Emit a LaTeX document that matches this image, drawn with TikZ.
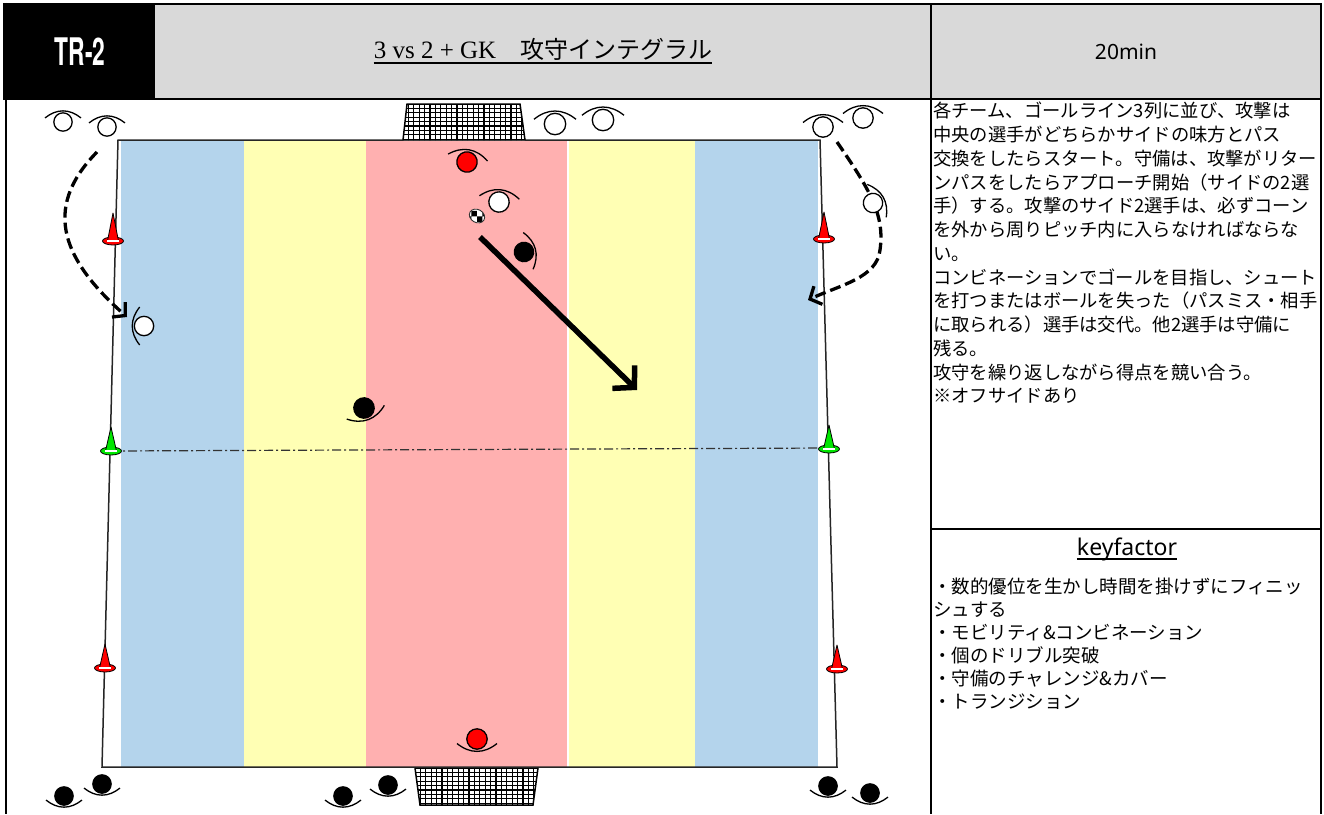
\documentclass[tikz,border=0pt]{standalone}
\usepackage{fontspec}
\usepackage{graphicx}
\newfontfamily\jp{Noto Sans CJK JP}
\newfontfamily\ttlserif{Liberation Serif}
\newfontfamily\heros{TeX Gyre Heros}
\newfontfamily\nsans{Noto Sans}
\usetikzlibrary{arrows.meta,patterns,calc}
\definecolor{hdrgray}{RGB}{217,217,217}
\definecolor{pbl}{RGB}{180,212,236}
\definecolor{pye}{RGB}{255,255,180}
\definecolor{ppk}{RGB}{255,176,176}
\definecolor{conered}{RGB}{255,0,0}
\definecolor{conegreen}{RGB}{0,230,0}
\tikzset{
  pics/player/.style={code={
    \draw[line width=1.3pt] (-20,-4.5) .. controls (-7,-15) and (7,-15) .. (20,-4.5);
    \draw[line width=1.3pt, fill=#1] (0,0) circle[radius=10.2pt];
  }},
  pics/cone/.style args={#1/#2}{code={
    \draw[fill=#1, line width=0.8pt] (0,0) ellipse[x radius=10.5pt, y radius=4pt];
    \draw[fill=#1, line width=0.8pt, line join=round] (-5.5,0) -- (0,-#2) -- (5.5,0) -- cycle;
    \fill[white] (-6,-1) rectangle (6,1);
  }},
}
\begin{document}
\begin{tikzpicture}[x=1pt,y=-1pt,
  border/.style={line width=2.5pt},
  pitchline/.style={line width=1.5pt, draw=black!85},
  runarrow/.style={line width=3.3pt, dash pattern=on 11pt off 5pt, -{Straight Barb[length=9pt,width=20pt]}},
  passarrow/.style={line width=5.5pt, -{Straight Barb[length=15pt,width=32pt]}},
  offside/.style={line width=1.2pt, draw=black!80, dash pattern=on 9pt off 3pt on 2pt off 3pt},
  netline/.style={line width=1.3pt}]
\useasboundingbox (0,0) rectangle (1324,814);
\fill[white] (0,0) rectangle (1324,814);

% ---------- header ----------
\fill[hdrgray] (155,4) rectangle (1321,99);
\fill[black] (3,3) rectangle (155,100);
\draw[border] (6,4) -- (1321,4);
\draw[border] (6,2.75) -- (6,814);
\draw[border] (1321,2.75) -- (1321,814);
\draw[border] (6,99) -- (1321,99);
\draw[border] (931,4) -- (931,814);
\draw[border] (931,529) -- (1321,529);

\node[text=white, font=\heros\bfseries\fontsize{38}{38}\selectfont] (tr) at (80,52) {\scalebox{0.6}[1]{TR-2}};
\node[anchor=base, inner sep=0pt] (title) at (543,58)
  {{\ttlserif\fontsize{25}{30}\selectfont 3 vs 2 + GK}{\jp\fontsize{24}{30}\selectfont 　攻守インテグラル}};
\draw[line width=2pt] ($(title.base west)+(0,4.5)$) -- ($(title.base east)+(0,4.5)$);
\node[font=\nsans\fontsize{21}{24}\selectfont] (dur) at (1126,52) {20min};

% ---------- pitch ----------
\fill[pbl] (121,141) rectangle (244,767);
\fill[pye] (244,141) rectangle (366,767);
\fill[ppk] (366,141) rectangle (567,767);
\fill[pye] (569,141) rectangle (695,767);
\fill[pbl] (695,141) rectangle (818,767);
\draw[pitchline] (118,140) -- (820,140) -- (837,767) -- (102,767) -- cycle;

% offside line
\coordinate (g1) at (111,451);
\coordinate (g2) at (829,448);
\draw[offside] (g1) -- (g2);

% goals
\begin{scope}
  \clip (407,104) -- (520,104) -- (525,140) -- (403,140) -- cycle;
  \fill[white] (400,100) rectangle (530,145);
  \foreach \i in {0,...,23} \draw[netline] ({403+5.4*\i},100) -- ({403+5.4*\i},145);
  \foreach \j in {0,...,9} \draw[netline] (400,{104+4.4*\j}) -- (530,{104+4.4*\j});
\end{scope}
\draw[line width=1.5pt] (403,140) -- (407,104) -- (520,104) -- (525,140);
\begin{scope}
  \clip (415,768) -- (538,768) -- (533,805) -- (420,805) -- cycle;
  \fill[white] (410,765) rectangle (545,810);
  \foreach \i in {0,...,24} \draw[netline] ({415+5.4*\i},765) -- ({415+5.4*\i},810);
  \foreach \j in {0,...,9} \draw[netline] (410,{768+4.4*\j}) -- (545,{768+4.4*\j});
\end{scope}
\draw[line width=1.5pt] (415,768) -- (420,805) -- (533,805) -- (538,768);

% running arrows
\coordinate (L0) at (97,152);
\coordinate (L1) at (127,317);
\draw[runarrow] (L0) .. controls (40,210) and (65,262) .. (L1);
\coordinate (R0) at (837,142);
\coordinate (R1) at (880,250);
\coordinate (R2) at (808,300);
\draw[runarrow] (R0) .. controls (870,190) and (885,215) .. (R1) .. controls (877,278) and (840,285) .. (R2);

% pass arrow
\coordinate (P0) at (480,237);
\coordinate (P1) at (637,390);
\draw[passarrow] (P0) -- (P1);

% cones
\pic (C1) at (113,241) {cone=conered/28};
\pic (C2) at (824,239) {cone=conered/27};
\pic (C3) at (111,451) {cone=conegreen/24};
\pic (C4) at (829,449) {cone=conegreen/24};
\pic (C5) at (105,668) {cone=conered/24};
\pic (C6) at (837,669) {cone=conered/24};

% players
\pic[scale=0.9] (A1) at (63,122) {player=white};
\pic[scale=0.9] (A2) at (107,127) {player=white};
\pic[scale=1.05] (A3) at (555,124) {player=white};
\pic[scale=1.05] (A4) at (603,120) {player=white};
\pic (A5) at (823,127) {player=white};
\pic (A6) at (863,118) {player=white};
\pic[rotate=-60, scale=0.95] (A7) at (873,203) {player=white};
\pic[rotate=90, scale=0.95] (A8) at (144,326) {player=white};
\pic[rotate=-10] (G1) at (467,162) {player=conered};
\pic[rotate=-5] (A9) at (499,202) {player=white};
\pic[rotate=-75, scale=0.95] (B1) at (524,252) {player=black};
\pic[rotate=200] (B2) at (364,408) {player=black};
\pic[rotate=180] (G2) at (477,739) {player=conered};
\pic[rotate=180, scale=0.9] (B3) at (64,796) {player=black};
\pic[rotate=180, scale=0.9] (B4) at (102,784) {player=black};
\pic[rotate=180, scale=0.9] (B5) at (343,796) {player=black};
\pic[rotate=180, scale=0.9] (B6) at (388,785) {player=black};
\pic[rotate=180, scale=0.9] (B7) at (828,786) {player=black};
\pic[rotate=180, scale=0.9] (B8) at (870,793) {player=black};

% ball
\fill[white, rotate around={-30:(477,216)}] (477,216) ellipse[x radius=8pt, y radius=6.5pt];
\path[pattern=checkerboard, rotate around={-30:(477,216)}] (477,216) ellipse[x radius=8pt, y radius=6.5pt];
\draw[line width=0.9pt, draw=black!80, rotate around={-30:(477,216)}] (477,216) ellipse[x radius=8pt, y radius=6.5pt];

% ---------- right panel ----------
\node[anchor=north west, inner sep=0pt, align=left, font=\jp\fontsize{18.3}{23.75}\selectfont] (desc) at (933,102)
{各チーム、ゴールライン3列に並び、攻撃は\\
中央の選手がどちらかサイドの味方とパス\\
交換をしたらスタート。守備は、攻撃がリター\\
ンパスをしたらアプローチ開始（サイドの2選\\
手）する。攻撃のサイド2選手は、必ずコーン\\
を外から周りピッチ内に入らなければならな\\
い。\\
コンビネーションでゴールを目指し、シュート\\
を打つまたはボールを失った（パスミス・相手\\
に取られる）選手は交代。他2選手は守備に\\
残る。\\
攻守を繰り返しながら得点を競い合う。\\
※オフサイドあり};

\node[anchor=base, inner sep=0pt, font=\nsans\fontsize{23}{26}\selectfont] (kf) at (1127,555) {keyfactor};
\draw[line width=1.5pt] ($(kf.base west)+(0,4)$) -- ($(kf.base east)+(0,4)$);

\node[anchor=north west, inner sep=0pt, align=left, font=\jp\fontsize{18.5}{23}\selectfont] (kfl) at (933,578)
{・数的優位を生かし時間を掛けずにフィニッ\\
シュする\\
・モビリティ\&コンビネーション\\
・個のドリブル突破\\
・守備のチャレンジ\&カバー\\
・トランジション};
\end{tikzpicture}
\end{document}
